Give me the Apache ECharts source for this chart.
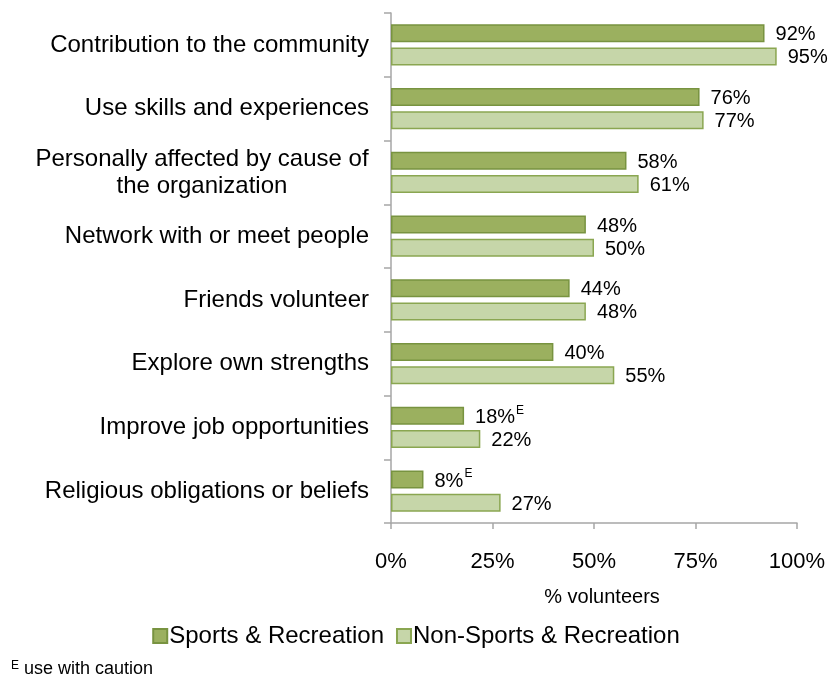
<!DOCTYPE html>
<html>
<head>
<meta charset="utf-8">
<script src="https://cdn.jsdelivr.net/npm/echarts@6/dist/echarts.min.js"></script>
<style>
  html, body { margin: 0; padding: 0; background: #fff; }
  #chart { width: 832px; height: 679px; }
</style>
</head>
<body>
<div id="chart"></div>
<script>
// Reasons for volunteering, by type of volunteer organization
const categories = [
  'Contribution to the community',
  'Use skills and experiences',
  'Personally affected by cause of\nthe organization',
  'Network with or meet people',
  'Friends volunteer',
  'Explore own strengths',
  'Improve job opportunities',
  'Religious obligations or beliefs'
];
const sportsValues = [92, 76, 58, 48, 44, 40, 18, 8];
const nonSportsValues = [95, 77, 61, 50, 48, 55, 22, 27];
// Estimates flagged "use with caution"
const sportsCaution = [false, false, false, false, false, false, true, true];
const xTicks = [0, 25, 50, 75, 100];

const FONT = 'Liberation Sans, Arial, sans-serif';
const chart = echarts.init(document.getElementById('chart'));

function valueLabel(flags) {
  return function (p) {
    const v = p.value + '%';
    return flags && flags[p.dataIndex] ? '{v|' + v + '}{s|E}' : '{v|' + v + '}';
  };
}

const labelRich = {
  v: { fontSize: 20, fontFamily: FONT, color: '#000', padding: [3, 0, 0, 0] },
  s: { fontSize: 12, fontFamily: FONT, color: '#000', verticalAlign: 'top', padding: [0, 0, 8, 1] }
};

chart.setOption({
  animation: false,
  textStyle: { fontFamily: FONT },
  grid: { left: 391, right: 35, top: 13, bottom: 156, containLabel: false },
  xAxis: {
    type: 'value',
    min: 0,
    max: 100,
    interval: 25,
    name: '% volunteers',
    nameLocation: 'middle',
    nameGap: 64,
    nameTextStyle: { fontSize: 20, color: '#000', padding: [0, 0, 0, 16] },
    axisLine: { show: true, lineStyle: { color: '#a6a6a6', width: 1.5 } },
    axisTick: { show: true, length: 6, lineStyle: { color: '#a6a6a6', width: 1.5 } },
    axisLabel: {
      margin: 28,
      fontSize: 22,
      color: '#000',
      formatter: function (v) { return xTicks.indexOf(v) >= 0 ? v + '%' : ''; }
    },
    splitLine: { show: false }
  },
  yAxis: {
    type: 'category',
    inverse: true,
    data: categories,
    axisLine: { show: true, lineStyle: { color: '#a6a6a6', width: 1.5 } },
    axisTick: { show: true, length: 7, alignWithLabel: false, lineStyle: { color: '#a6a6a6', width: 1.5 } },
    axisLabel: {
      margin: 22,
      fontSize: 24,
      color: '#000',
      align: 'right',
      lineHeight: 27,
      formatter: function (v) {
        if (v.indexOf('\n') >= 0) {
          const parts = v.split('\n');
          return '{c|' + parts[0] + '}\n{c|' + parts[1] + '}';
        }
        return v;
      },
      rich: {
        c: { fontSize: 24, fontFamily: FONT, color: '#000', width: 334, align: 'center', lineHeight: 27 }
      }
    }
  },
  legend: {
    bottom: 26,
    left: 'center',
    itemWidth: 14,
    itemHeight: 14,
    itemGap: 12,
    icon: 'rect',
    textStyle: { fontSize: 24, color: '#000', fontFamily: FONT, padding: [0, 0, 0, -3] },
    data: ['Sports & Recreation', 'Non-Sports & Recreation']
  },
  series: [
    {
      name: 'Sports & Recreation',
      type: 'bar',
      data: sportsValues,
      barWidth: 18,
      barGap: '28%',
      itemStyle: { color: '#9bb05f', borderColor: '#789340', borderWidth: 1.5 },
      label: {
        show: true,
        position: 'right',
        distance: 11,
        formatter: valueLabel(sportsCaution),
        rich: labelRich
      }
    },
    {
      name: 'Non-Sports & Recreation',
      type: 'bar',
      data: nonSportsValues,
      barWidth: 18,
      itemStyle: { color: '#c6d6a9', borderColor: '#8aa651', borderWidth: 1.5 },
      label: {
        show: true,
        position: 'right',
        distance: 11,
        formatter: valueLabel(null),
        rich: labelRich
      }
    }
  ],
  graphic: [
    {
      type: 'text',
      left: 11,
      top: 660,
      style: {
        text: '{s|E}{t| use with caution}',
        rich: {
          s: { fontSize: 12, fontFamily: FONT, fill: '#000', verticalAlign: 'top', padding: [0, 0, 7, 0] },
          t: { fontSize: 18, fontFamily: FONT, fill: '#000' }
        }
      }
    }
  ]
});
</script>
</body>
</html>
